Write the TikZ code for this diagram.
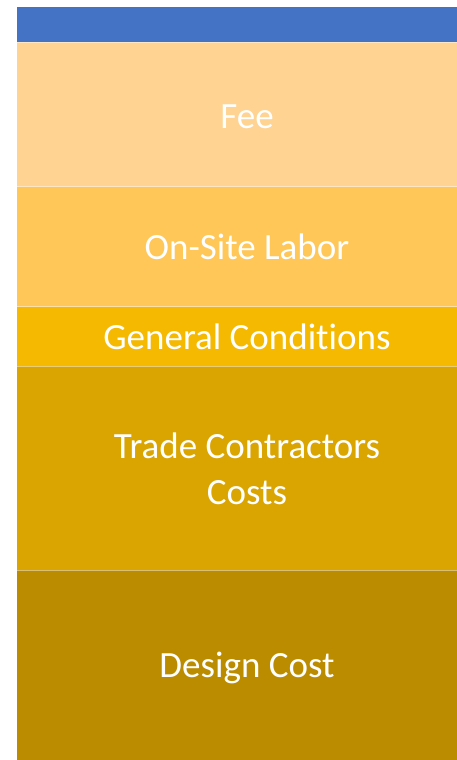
\documentclass[tikz,border=0pt]{standalone}
\usepackage{fontspec}
\setmainfont{Carlito}[Ligatures=NoCommon]
\definecolor{capblue}{RGB}{68,114,196}
\definecolor{feecol}{RGB}{255,211,145}
\definecolor{laborcol}{RGB}{255,198,88}
\definecolor{gccol}{RGB}{244,185,0}
\definecolor{tradecol}{RGB}{218,165,0}
\definecolor{designcol}{RGB}{188,140,0}
\tikzset{
  band/.style={draw=white, draw opacity=0.45, line width=0.8pt},
  label/.style={text=white, font=\fontsize{37}{46}\selectfont, align=center, inner sep=0pt}
}
\begin{document}
\begin{tikzpicture}[x=1pt,y=-1pt]
\useasboundingbox (0,0) rectangle (457,760);
\fill[white] (0,0) rectangle (457,760);
% stacked cost bands
\fill[designcol] (17,570) rectangle (480,780);
\fill[tradecol] (17,366) rectangle (480,570);
\fill[gccol] (17,306.5) rectangle (480,366);
\fill[laborcol] (17,186.5) rectangle (480,306.5);
\fill[feecol] (17,42.5) rectangle (480,186.5);
\fill[capblue] (17,7) rectangle (480,42.5);
% thin separators between bands
\foreach \yy in {42.5,186.5,306.5,366,570}
  \draw[band] (17,\yy) -- (480,\yy);
% band labels
\node[label] (fee) at (247,117) {Fee};
\node[label] (labor) at (247,247) {On-Site Labor};
\node[label] (gc) at (247,337) {General Conditions};
\node[label] (trade) at (247,469) {Trade Contractors\\Costs};
\node[label] (design) at (247,668) {Design Cost};
\end{tikzpicture}
\end{document}
